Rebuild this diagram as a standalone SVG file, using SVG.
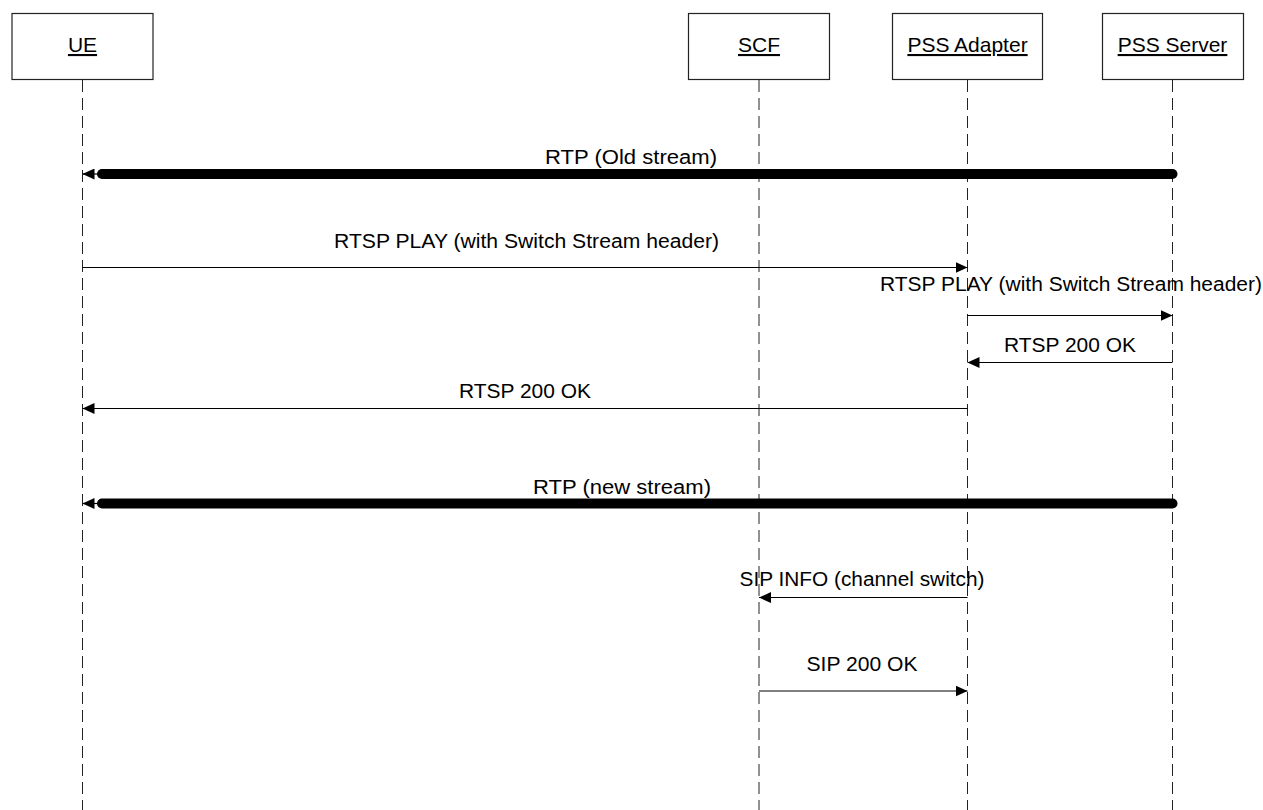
<svg xmlns="http://www.w3.org/2000/svg" width="1263" height="810" viewBox="0 0 1263 810">
<style>
.box{fill:#fff;stroke:#222;stroke-width:1.2}
.life{stroke:#222;stroke-width:1;stroke-dasharray:12,6;fill:none}
.msg{stroke:#000;stroke-width:1.2;fill:none}
.thick{stroke:#000;stroke-width:10;stroke-linecap:round;fill:none}
.t{font-family:"Liberation Sans",Arial,sans-serif;font-size:19.5px;fill:#000;text-anchor:middle}
.u{text-decoration:underline;font-size:21px}
</style>
<defs>
<marker id="ah" markerWidth="12" markerHeight="11" refX="12" refY="5.5" orient="auto" markerUnits="userSpaceOnUse">
<path d="M0,0 L12,5.5 L0,11 Z" fill="#000"/>
</marker>
</defs>
<rect width="1263" height="810" fill="#fff"/>
<g id="UE">
<rect class="box" x="12" y="13.5" width="141" height="66"/>
<text class="t u" x="82.5" y="52">UE</text>
<line class="life" x1="82.5" y1="80" x2="82.5" y2="810"/>
</g>
<g id="SCF">
<rect class="box" x="688.5" y="13.5" width="141" height="66"/>
<text class="t u" x="759" y="52">SCF</text>
<line class="life" x1="759" y1="80" x2="759" y2="810"/>
</g>
<g id="PSSAdapter">
<rect class="box" x="892.5" y="13.5" width="150" height="66"/>
<text class="t u" x="967.5" y="52">PSS Adapter</text>
<line class="life" x1="967.5" y1="80" x2="967.5" y2="810"/>
</g>
<g id="PSSServer">
<rect class="box" x="1102.5" y="13.5" width="141" height="66"/>
<text class="t u" x="1172.5" y="52">PSS Server</text>
<line class="life" x1="1172.5" y1="80" x2="1172.5" y2="810"/>
</g>
<g id="connectors">
<line class="thick" x1="1172.5" y1="174" x2="102" y2="174"/>
<line class="msg" x1="102" y1="174" x2="82.5" y2="174" marker-end="url(#ah)"/>
<text class="t" x="631" y="163.5" textLength="172" lengthAdjust="spacingAndGlyphs">RTP (Old stream)</text>

<line class="msg" x1="82.5" y1="267.5" x2="967.5" y2="267.5" marker-end="url(#ah)"/>
<text class="t" x="526.5" y="247.5" textLength="385" lengthAdjust="spacingAndGlyphs">RTSP PLAY (with Switch Stream header)</text>

<line class="msg" x1="967.5" y1="315.5" x2="1172.5" y2="315.5" marker-end="url(#ah)"/>
<text class="t" x="1071" y="290.5" textLength="382" lengthAdjust="spacingAndGlyphs">RTSP PLAY (with Switch Stream header)</text>

<line class="msg" x1="1172.5" y1="362.5" x2="967.5" y2="362.5" marker-end="url(#ah)"/>
<text class="t" x="1070" y="351.5" textLength="132" lengthAdjust="spacingAndGlyphs">RTSP 200 OK</text>

<line class="msg" x1="967.5" y1="408.5" x2="82.5" y2="408.5" marker-end="url(#ah)"/>
<text class="t" x="525" y="397.5" textLength="132" lengthAdjust="spacingAndGlyphs">RTSP 200 OK</text>

<line class="thick" x1="1172.5" y1="503.5" x2="102" y2="503.5"/>
<line class="msg" x1="102" y1="503.5" x2="82.5" y2="503.5" marker-end="url(#ah)"/>
<text class="t" x="622" y="493.5" textLength="178" lengthAdjust="spacingAndGlyphs">RTP (new stream)</text>

<line class="msg" x1="967.5" y1="597.5" x2="759" y2="597.5" marker-end="url(#ah)"/>
<text class="t" x="862" y="585.5" textLength="245" lengthAdjust="spacingAndGlyphs">SIP INFO (channel switch)</text>

<line class="msg" x1="759" y1="691" x2="967.5" y2="691" marker-end="url(#ah)"/>
<text class="t" x="862" y="670.5" textLength="111" lengthAdjust="spacingAndGlyphs">SIP 200 OK</text>
</g>
</svg>
